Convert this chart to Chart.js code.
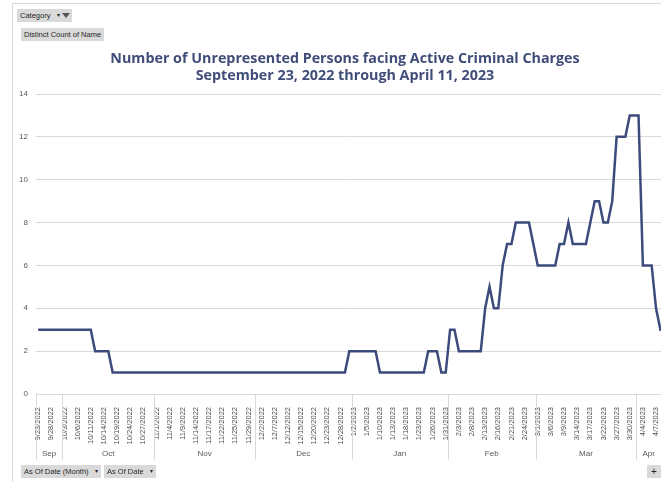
<!DOCTYPE html>
<html><head><meta charset="utf-8">
<script src="https://cdn.jsdelivr.net/npm/chart.js@4/dist/chart.umd.min.js"></script>
<style>
html,body{margin:0;padding:0;width:661px;height:482px;overflow:hidden;background:#fff;}
#wrap{position:relative;width:661px;height:482px;overflow:hidden;}
canvas{position:absolute;left:0;top:0;}
.frameTop{position:absolute;left:12px;top:3px;width:660px;height:1px;background:#D9D9D9;}
.frameLeft{position:absolute;left:12px;top:3px;width:1px;height:480px;background:#D9D9D9;}
.btn{position:absolute;background:#D9D9D9;color:#262626;font:7.5px "Liberation Sans",Arial,sans-serif;line-height:13px;height:13px;padding:0 3px;white-space:nowrap;}
.dd{display:inline-block;margin-left:4px;font-size:6px;vertical-align:top;}
.funnel{display:inline-block;width:0;height:0;border-left:4px solid transparent;border-right:4px solid transparent;border-top:5px solid #555;vertical-align:middle;margin-left:2px;position:relative;top:-1px;}
.title{position:absolute;left:0;width:690px;text-align:center;font-family:"Open Sans",sans-serif;font-weight:700;font-size:14.3px;line-height:17px;color:#404D78;white-space:nowrap;}
</style></head>
<body>
<div id="wrap">
<canvas id="c" width="667" height="482"></canvas>
<div class="frameTop"></div><div class="frameLeft"></div>
<div class="btn" style="left:17px;top:9px;width:49px;">Category <span class="dd">&#9662;</span><span class="funnel"></span></div>
<div class="btn" style="left:21px;top:28px;">Distinct Count of Name</div>
<div class="title" style="top:49px;">Number of Unrepresented Persons facing Active Criminal Charges</div>
<div class="title" style="top:66px;">September 23, 2022 through April 11, 2023</div>
<div class="btn" style="left:21px;top:465px;">As Of Date (Month) <span class="dd">&#9662;</span></div>
<div class="btn" style="left:104px;top:465px;">As Of Date <span class="dd">&#9662;</span></div>
<div class="btn" style="left:647px;top:465px;width:8px;text-align:center;font-size:10px;">+</div>
</div>
<script>
const categories = [
 '9/23/2022','9/26/2022','9/27/2022','9/28/2022','9/29/2022','9/30/2022',
 '10/3/2022','10/4/2022','10/5/2022','10/6/2022','10/7/2022','10/10/2022','10/11/2022','10/12/2022','10/13/2022','10/14/2022','10/17/2022','10/18/2022','10/19/2022','10/20/2022','10/21/2022','10/24/2022','10/25/2022','10/26/2022','10/27/2022','10/28/2022','10/31/2022',
 '11/1/2022','11/2/2022','11/3/2022','11/4/2022','11/7/2022','11/8/2022','11/9/2022','11/10/2022','11/11/2022','11/14/2022','11/15/2022','11/16/2022','11/17/2022','11/18/2022','11/21/2022','11/22/2022','11/23/2022','11/24/2022','11/25/2022','11/27/2022','11/28/2022','11/29/2022','11/30/2022',
 '12/1/2022','12/2/2022','12/5/2022','12/6/2022','12/7/2022','12/8/2022','12/9/2022','12/12/2022','12/13/2022','12/14/2022','12/15/2022','12/16/2022','12/19/2022','12/20/2022','12/21/2022','12/22/2022','12/23/2022','12/26/2022','12/27/2022','12/28/2022','12/29/2022','12/30/2022',
 '1/2/2023','1/3/2023','1/4/2023','1/5/2023','1/6/2023','1/9/2023','1/10/2023','1/11/2023','1/12/2023','1/13/2023','1/16/2023','1/17/2023','1/18/2023','1/19/2023','1/20/2023','1/23/2023','1/24/2023','1/25/2023','1/26/2023','1/27/2023','1/30/2023','1/31/2023',
 '2/1/2023','2/2/2023','2/3/2023','2/6/2023','2/7/2023','2/8/2023','2/9/2023','2/10/2023','2/13/2023','2/14/2023','2/15/2023','2/16/2023','2/17/2023','2/20/2023','2/21/2023','2/22/2023','2/23/2023','2/24/2023','2/27/2023','2/28/2023',
 '3/1/2023','3/2/2023','3/3/2023','3/6/2023','3/7/2023','3/8/2023','3/9/2023','3/10/2023','3/13/2023','3/14/2023','3/15/2023','3/16/2023','3/17/2023','3/20/2023','3/21/2023','3/22/2023','3/23/2023','3/24/2023','3/27/2023','3/28/2023','3/29/2023','3/30/2023','3/31/2023',
 '4/3/2023','4/4/2023','4/5/2023','4/6/2023','4/7/2023','4/10/2023','4/11/2023'
];
const tickLabels = [
 '9/23/2022','9/28/2022','10/3/2022','10/6/2022','10/11/2022','10/14/2022','10/19/2022','10/24/2022','10/27/2022',
 '11/1/2022','11/4/2022','11/9/2022','11/14/2022','11/17/2022','11/22/2022','11/25/2022','11/29/2022',
 '12/2/2022','12/7/2022','12/12/2022','12/15/2022','12/20/2022','12/23/2022','12/28/2022',
 '1/2/2023','1/5/2023','1/10/2023','1/13/2023','1/18/2023','1/23/2023','1/26/2023','1/31/2023',
 '2/3/2023','2/8/2023','2/13/2023','2/16/2023','2/21/2023','2/24/2023',
 '3/1/2023','3/6/2023','3/9/2023','3/14/2023','3/17/2023','3/22/2023','3/27/2023','3/30/2023',
 '4/4/2023','4/7/2023'
];
const counts = [
 3,3,3,3,3,3,
 3,3,3,3,3,3,3,2,2,2,2,1,1,1,1,1,1,1,1,1,1,
 1,1,1,1,1,1,1,1,1,1,1,1,1,1,1,1,1,1,1,1,1,1,1,
 1,1,1,1,1,1,1,1,1,1,1,1,1,1,1,1,1,1,1,1,1,2,
 2,2,2,2,2,2,1,1,1,1,1,1,1,1,1,1,1,2,2,2,1,1,
 3,3,2,2,2,2,2,2,4,5,4,4,6,7,7,8,8,8,8,7,
 6,6,6,6,6,7,7,8,7,7,7,7,8,9,9,8,8,9,12,12,12,13,13,
 13,6,6,6,4,3,3
];
const monthNames = ['Sep','Oct','Nov','Dec','Jan','Feb','Mar','Apr'];
const yTicks = {min:0, max:14, step:2};

// month groups derived from the category dates
const groups = [];
categories.forEach((d,i)=>{
  const m = d.split('/')[0];
  if(!groups.length || groups[groups.length-1].key!==m){
    groups.push({key:m, start:i, end:i, name:monthNames[groups.length]});
  } else groups[groups.length-1].end = i;
});

const monthAxis = {
  id:'monthAxis',
  afterDraw(chart){
    const x = chart.scales.x, ctx = chart.ctx, area = chart.chartArea;
    const step = x.getPixelForValue(1) - x.getPixelForValue(0);
    const visible = document.getElementById('wrap').clientWidth;
    ctx.save();
    ctx.strokeStyle = '#D9D9D9'; ctx.lineWidth = 1;
    ctx.font = '8px "Liberation Sans", Arial, sans-serif';
    ctx.fillStyle = '#595959'; ctx.textAlign = 'center'; ctx.textBaseline = 'middle';
    groups.forEach(g=>{
      const left = x.getPixelForValue(g.start) - step/2;
      const right = x.getPixelForValue(g.end) + step/2;
      const lx = Math.round(left) + 0.5;
      ctx.beginPath(); ctx.moveTo(lx, area.bottom + 1); ctx.lineTo(lx, area.bottom + 66); ctx.stroke();
      ctx.fillText(g.name, (left + Math.min(right, visible)) / 2, area.bottom + 59.5);
    });
    ctx.restore();
  }
};

new Chart(document.getElementById('c'), {
  type:'line',
  data:{labels:categories, datasets:[{data:counts, borderColor:'#3D4B7C', borderWidth:2.5, pointRadius:0, tension:0, fill:false, borderJoinStyle:'miter'}]},
  options:{
    responsive:false, animation:false, devicePixelRatio:1,
    layout:{padding:{top:94,left:0,right:0,bottom:0}},
    plugins:{legend:{display:false}, title:{display:false}, tooltip:{enabled:false}},
    scales:{
      x:{type:'category', offset:true, grid:{display:false}, border:{display:false},
         ticks:{autoSkip:false, minRotation:90, maxRotation:90, padding:5, color:'#4D4D4D',
                font:{family:'"Liberation Sans", Arial, sans-serif', size:7.5},
                callback(v,i){ const l = categories[i]; return tickLabels.includes(l) ? l : ''; }},
         afterFit(s){ s.height = 88; s.paddingLeft = 0; s.paddingRight = 0; }},
      y:{min:yTicks.min, max:yTicks.max,
         ticks:{stepSize:yTicks.step, padding:8, color:'#595959', font:{family:'Liberation Sans', size:8}},
         grid:{color:'#D9D9D9', drawTicks:false}, border:{display:false},
         afterFit(s){ s.width = 36; }}
    }
  },
  plugins:[monthAxis]
});
</script>
</body></html>
